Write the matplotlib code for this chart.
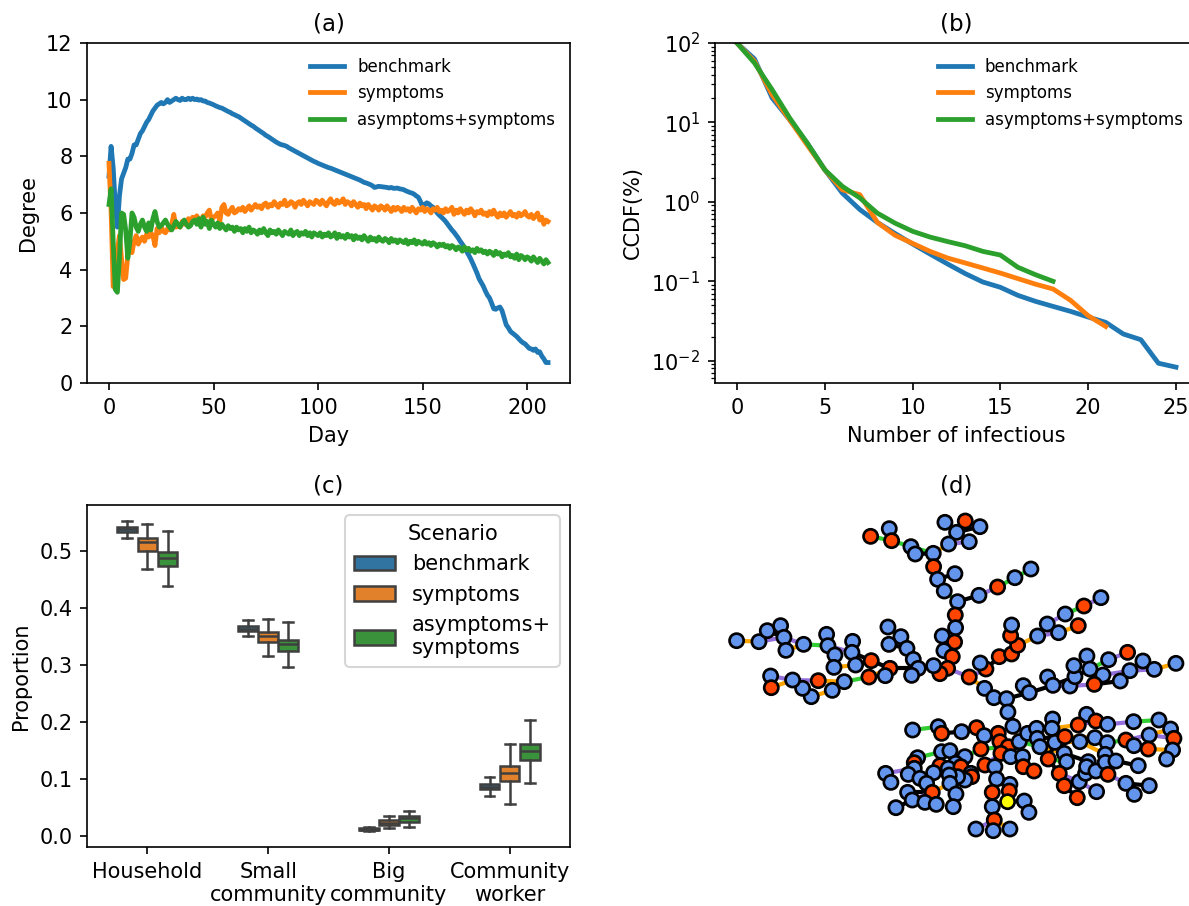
import numpy as np
import matplotlib.pyplot as plt
from matplotlib.patches import Patch

# ---------------- (a) degree over time ----------------
deg_benchmark = [
    7.3, 8.35, 7.6, 6.3, 5.5, 6.6, 7.2, 7.4, 7.6, 7.9,
    7.9, 8.1, 8.4, 8.4, 8.6, 8.8, 8.9, 9.05, 9.2, 9.3,
    9.45, 9.6, 9.7, 9.8, 9.85, 9.9, 9.85, 9.9, 10.0, 9.9,
    9.95, 10.0, 10.05, 10.0, 9.97, 10.05, 10.0, 10.0, 10.05, 10.0,
    10.05, 10.0, 10.02, 9.98, 10.0, 9.95, 9.95, 9.9, 9.88, 9.85,
    9.82, 9.78, 9.75, 9.72, 9.7, 9.66, 9.62, 9.58, 9.55, 9.5,
    9.47, 9.43, 9.4, 9.35, 9.3, 9.25, 9.2, 9.15, 9.1, 9.06,
    9.0, 8.95, 8.9, 8.85, 8.8, 8.74, 8.7, 8.65, 8.6, 8.55,
    8.5, 8.46, 8.42, 8.4, 8.38, 8.35, 8.3, 8.26, 8.22, 8.18,
    8.14, 8.1, 8.06, 8.02, 7.98, 7.94, 7.9, 7.86, 7.82, 7.79,
    7.75, 7.72, 7.69, 7.66, 7.63, 7.6, 7.58, 7.55, 7.52, 7.49,
    7.46, 7.43, 7.4, 7.37, 7.34, 7.31, 7.28, 7.25, 7.22, 7.19,
    7.16, 7.12, 7.08, 7.06, 7.03, 7.0, 6.96, 6.9, 6.92, 6.94,
    6.93, 6.92, 6.91, 6.9, 6.88, 6.9, 6.87, 6.87, 6.88, 6.85,
    6.84, 6.82, 6.78, 6.75, 6.72, 6.7, 6.66, 6.6, 6.55, 6.4,
    6.22, 6.3, 6.36, 6.32, 6.25, 6.2, 6.1, 6.0, 5.92, 5.85,
    5.78, 5.7, 5.6, 5.5, 5.4, 5.32, 5.22, 5.12, 5.0, 4.9,
    4.78, 4.65, 4.52, 4.38, 4.22, 4.05, 3.88, 3.68, 3.55, 3.42,
    3.25, 3.1, 3.0, 2.82, 2.62, 2.6, 2.65, 2.68, 2.55, 2.3,
    2.05, 1.95, 1.82, 1.76, 1.7, 1.64, 1.56, 1.48, 1.42, 1.38,
    1.3, 1.22, 1.2, 1.15, 1.2, 1.08, 1.1, 0.95, 0.85, 0.72,
    0.72]
deg_symptoms = [
    7.75, 6.1, 3.4, 3.9, 4.7, 5.2, 4.4, 3.65, 3.7, 4.5, 4.8,
    4.6, 5.0, 5.2, 4.9, 5.05, 5.15, 5.0, 5.25, 5.15, 5.3,
    5.2, 4.85, 5.45, 5.3, 5.5, 5.35, 5.3, 5.45, 5.4, 5.6,
    5.95, 5.5, 5.55, 5.5, 5.7, 5.6, 5.65, 5.8, 5.65, 5.85,
    5.75, 5.9, 5.75, 5.7, 5.9, 5.85, 6.0, 6.1, 5.75, 5.85,
    5.9, 6.0, 5.7, 6.2, 6.3, 6.0, 5.95, 6.1, 6.2, 6.0,
    6.05, 6.15, 6.1, 6.2, 6.05, 6.15, 6.25, 6.1, 6.2, 6.3,
    6.2, 6.25, 6.15, 6.3, 6.35, 6.2, 6.3, 6.25, 6.4, 6.3,
    6.2, 6.35, 6.3, 6.45, 6.25, 6.3, 6.4, 6.35, 6.2, 6.35,
    6.4, 6.3, 6.45, 6.35, 6.25, 6.4, 6.35, 6.3, 6.45, 6.4,
    6.3, 6.45, 6.35, 6.25, 6.4, 6.5, 6.35, 6.3, 6.45, 6.35,
    6.4, 6.5, 6.3, 6.4, 6.35, 6.25, 6.4, 6.3, 6.2, 6.35,
    6.25, 6.3, 6.15, 6.3, 6.2, 6.1, 6.25, 6.2, 6.1, 6.25,
    6.2, 6.1, 6.25, 6.15, 6.05, 6.2, 6.1, 6.2, 6.15, 6.05,
    6.2, 6.1, 6.15, 6.05, 6.2, 6.1, 6.0, 6.15, 6.1, 6.2,
    6.05, 6.15, 6.1, 6.0, 6.15, 6.1, 6.2, 6.05, 6.1, 6.0,
    6.15, 6.05, 6.1, 6.2, 5.95, 6.1, 6.0, 6.15, 6.05, 5.95,
    6.1, 6.0, 6.15, 6.05, 5.9, 6.05, 6.0, 6.1, 5.95, 6.0,
    5.9, 6.05, 5.95, 6.1, 5.95, 5.85, 6.0, 5.9, 6.0, 5.85,
    5.95, 6.05, 5.9, 5.95, 5.85, 6.0, 5.9, 5.95, 6.05, 5.9,
    5.85, 5.95, 5.8, 5.9, 6.0, 5.75, 5.85, 5.6, 5.75, 5.7]
deg_asym = [
    6.3, 6.85, 5.0, 3.3, 3.2, 4.4, 6.0, 5.95, 5.4, 4.4, 5.0,
    6.0, 5.85, 5.5, 5.35, 5.6, 5.75, 5.5, 5.35, 5.65, 5.4,
    5.8, 6.05, 5.7, 5.5, 5.55, 5.65, 5.75, 5.6, 5.5, 5.4,
    5.55, 5.7, 5.6, 5.5, 5.65, 5.75, 5.6, 5.5, 5.55, 5.7,
    5.75, 5.6, 5.8, 5.5, 5.85, 5.6, 5.7, 5.45, 5.75, 5.6,
    5.5, 5.65, 5.45, 5.6, 5.5, 5.4, 5.55, 5.45, 5.5, 5.35,
    5.5, 5.4, 5.45, 5.3, 5.45, 5.35, 5.5, 5.3, 5.4, 5.35,
    5.25, 5.4, 5.3, 5.45, 5.3, 5.2, 5.4, 5.3, 5.35, 5.25,
    5.4, 5.3, 5.2, 5.35, 5.3, 5.25, 5.4, 5.2, 5.3, 5.35,
    5.2, 5.3, 5.25, 5.35, 5.2, 5.3, 5.15, 5.3, 5.25, 5.2,
    5.3, 5.15, 5.25, 5.2, 5.3, 5.15, 5.2, 5.3, 5.1, 5.25,
    5.15, 5.2, 5.1, 5.25, 5.15, 5.2, 5.05, 5.2, 5.1, 5.15,
    5.05, 5.2, 5.1, 5.0, 5.15, 5.05, 5.1, 5.0, 5.15, 5.05,
    5.0, 5.1, 5.05, 4.95, 5.1, 5.0, 5.05, 4.95, 5.05, 5.0,
    4.95, 5.05, 4.9, 5.0, 4.95, 5.05, 4.9, 5.0, 4.95, 4.9,
    5.0, 4.9, 4.95, 4.85, 4.95, 4.9, 4.8, 4.9, 4.85, 4.9,
    4.8, 4.85, 4.75, 4.85, 4.8, 4.7, 4.8, 4.75, 4.65, 4.8,
    4.7, 4.75, 4.65, 4.7, 4.6, 4.75, 4.65, 4.7, 4.6, 4.65,
    4.55, 4.65, 4.6, 4.5, 4.65, 4.55, 4.6, 4.45, 4.55, 4.5,
    4.6, 4.45, 4.5, 4.4, 4.55, 4.35, 4.5, 4.45, 4.35, 4.45,
    4.4, 4.3, 4.45, 4.35, 4.25, 4.4, 4.3, 4.2, 4.35, 4.25]

# ---------------- (b) CCDF of number of infectious ----------------
ccdf_benchmark = [100, 63, 20.4, 10.8, 5.5, 2.54, 1.29, 0.80, 0.55, 0.40,
                  0.295, 0.22, 0.165, 0.125, 0.098, 0.084, 0.0665, 0.0559,
                  0.0483, 0.0418, 0.0355, 0.0304, 0.0217, 0.0184, 0.0093, 0.0083]
ccdf_symptoms = [100, 58.8, 22.4, 10.8, 5.2, 2.54, 1.42, 1.23, 0.55, 0.38,
                 0.30, 0.238, 0.196, 0.17, 0.147, 0.127, 0.108, 0.092,
                 0.080, 0.0575, 0.0369, 0.027]
ccdf_asym = [100, 56, 25.9, 11.4, 5.5, 2.54, 1.57, 1.12, 0.72, 0.54,
             0.426, 0.36, 0.316, 0.28, 0.238, 0.214, 0.15, 0.121, 0.10]

# ---------------- (c) proportion of infections by setting ----------------
settings = ['Household', 'Small\ncommunity', 'Big\ncommunity', 'Community\nworker']
scenarios = ['benchmark', 'symptoms', 'asymptoms+\nsymptoms']
box_colors = ['#3274a1', '#e1812c', '#3a923a']
whislo = [[0.522, 0.350, 0.0076, 0.070],
          [0.468, 0.315, 0.014, 0.055],
          [0.438, 0.296, 0.016, 0.092]]
q1 = [[0.533, 0.359, 0.010, 0.0816],
      [0.500, 0.340, 0.019, 0.096],
      [0.474, 0.325, 0.0246, 0.133]]
med = [[0.5376, 0.363, 0.011, 0.086],
       [0.515, 0.350, 0.023, 0.111],
       [0.487, 0.336, 0.0305, 0.148]]
q3 = [[0.542, 0.368, 0.013, 0.091],
      [0.522, 0.357, 0.0276, 0.123],
      [0.498, 0.344, 0.0346, 0.161]]
whishi = [[0.553, 0.378, 0.0147, 0.103],
          [0.547, 0.381, 0.0346, 0.161],
          [0.535, 0.375, 0.043, 0.204]]

# ---------------- (d) transmission tree (layout) ----------------
# (x, y, kind)  b = infected, r = infectious, y = index case
nodes = [
    (765, 67, 'b'), (826, 63, 'r'), (870, 80, 'b'), (800, 97, 'b'), (776, 132, 'b'),
    (838, 125, 'b'), (598, 86, 'b'), (542, 109, 'r'), (605, 122, 'r'), (663, 140, 'b'),
    (676, 162, 'b'), (730, 160, 'b'), (731, 200, 'r'), (743, 238, 'b'), (795, 221, 'b'),
    (763, 273, 'b'), (803, 305, 'b'), (867, 286, 'b'), (923, 261, 'r'), (975, 233, 'b'),
    (1023, 207, 'b'), (796, 345, 'r'), (797, 383, 'b'), (757, 408, 'b'), (794, 426, 'r'),
    (762, 452, 'b'), (787, 470, 'r'), (773, 505, 'r'), (750, 521, 'r'), (731, 497, 'b'),
    (838, 531, 'r'), (888, 507, 'r'), (871, 489, 'b'), (928, 470, 'r'), (965, 462, 'r'),
    (983, 436, 'r'), (962, 407, 'r'), (965, 375, 'b'), (1043, 408, 'b'), (1072, 372, 'b'),
    (1106, 398, 'b'), (1165, 377, 'r'), (1126, 342, 'b'), (1182, 318, 'r'), (1233, 293, 'b'),
    (884, 565, 'b'), (912, 593, 'b'), (950, 596, 'b'), (1000, 557, 'b'), (1018, 578, 'b'),
    (1073, 531, 'b'), (1089, 556, 'b'), (1140, 558, 'b'), (1155, 530, 'b'), (1152, 497, 'b'),
    (1191, 468, 'b'), (1200, 507, 'b'), (1256, 479, 'b'), (1313, 457, 'r'), (1239, 525, 'b'),
    (1213, 553, 'r'), (1291, 543, 'b'), (1320, 512, 'b'), (1359, 483, 'b'), (1393, 508, 'b'),
    (1458, 490, 'b'),
    # left branches (66-98)
    (140, 422, 'b'), (207, 425, 'b'), (232, 392, 'b'), (272, 377, 'b'), (282, 412, 'b'),
    (288, 451, 'b'), (341, 433, 'b'), (410, 403, 'b'), (414, 437, 'b'), (435, 465, 'b'),
    (488, 424, 'b'), (486, 457, 'b'), (544, 482, 'r'), (600, 505, 'r'), (497, 495, 'b'),
    (432, 502, 'b'), (594, 381, 'b'), (633, 410, 'b'), (597, 433, 'b'), (651, 445, 'b'),
    (670, 478, 'b'), (685, 505, 'b'), (665, 526, 'b'), (586, 527, 'b'), (537, 531, 'r'),
    (463, 545, 'b'), (427, 571, 'b'), (364, 590, 'b'), (338, 565, 'b'), (385, 542, 'r'),
    (308, 540, 'b'), (242, 528, 'b'), (244, 563, 'r'),
    # stem (99-100)
    (954, 636, 'b'), (969, 679, 'b'),
    # lower left (101-160)
    (668, 690, 'b'), (745, 680, 'b'), (755, 700, 'r'), (815, 695, 'b'), (860, 683, 'r'),
    (883, 707, 'b'), (925, 700, 'r'), (930, 725, 'r'), (955, 740, 'r'), (933, 760, 'r'),
    (988, 725, 'b'), (962, 770, 'b'), (998, 770, 'b'), (1000, 800, 'r'), (1013, 700, 'b'),
    (873, 747, 'r'), (825, 770, 'b'), (755, 755, 'b'), (780, 752, 'b'), (797, 790, 'b'),
    (750, 797, 'r'), (775, 805, 'b'), (813, 800, 'r'), (843, 820, 'b'), (845, 830, 'r'),
    (825, 840, 'b'), (803, 830, 'b'), (778, 825, 'b'), (780, 850, 'b'), (731, 818, 'b'),
    (683, 773, 'b'), (673, 788, 'r'), (673, 805, 'b'), (655, 823, 'b'), (690, 835, 'b'),
    (710, 850, 'b'), (587, 820, 'b'), (603, 847, 'b'), (653, 877, 'b'), (667, 900, 'b'),
    (727, 877, 'r'), (705, 907, 'b'), (739, 913, 'b'), (798, 882, 'b'), (790, 920, 'b'),
    (618, 923, 'b'), (885, 795, 'r'), (915, 800, 'b'), (920, 837, 'b'), (960, 853, 'b'),
    (958, 873, 'r'), (953, 905, 'y'), (1003, 903, 'b'), (1017, 937, 'b'), (907, 877, 'r'),
    (907, 920, 'b'), (913, 960, 'r'), (858, 987, 'b'), (910, 992, 'b'), (960, 987, 'b'),
    # lower right (161-205)
    (1190, 643, 'b'), (1218, 663, 'r'), (1165, 675, 'r'), (1253, 673, 'b'), (1331, 665, 'b'),
    (1407, 660, 'b'), (1088, 657, 'b'), (1086, 685, 'b'), (1040, 685, 'b'), (1042, 715, 'b'),
    (1050, 740, 'b'), (1095, 727, 'b'), (1125, 710, 'r'), (1170, 725, 'b'), (1215, 713, 'b'),
    (1252, 728, 'b'), (1308, 720, 'r'), (1332, 737, 'b'), (1378, 705, 'b'), (1442, 687, 'b'),
    (1452, 715, 'r'), (1375, 747, 'r'), (1448, 750, 'b'), (1430, 777, 'b'), (1032, 813, 'r'),
    (1075, 777, 'r'), (1123, 760, 'b'), (1130, 785, 'b'), (1108, 820, 'r'), (1123, 857, 'r'),
    (1162, 893, 'r'), (1168, 845, 'b'), (1187, 820, 'b'), (1195, 785, 'b'), (1190, 800, 'b'),
    (1218, 813, 'b'), (1220, 875, 'b'), (1246, 763, 'b'), (1246, 787, 'b'), (1254, 823, 'r'),
    (1278, 783, 'b'), (1345, 797, 'b'), (1308, 850, 'b'), (1378, 857, 'b'), (1333, 883, 'b'),
]
# (node a, node b, contact type)
links = [
    (7, 8, 'g'), (6, 8, 'k'), (8, 9, 'g'), (9, 11, 'g'), (10, 11, 'k'), (11, 4, 'o'),
    (4, 5, 'p'), (4, 3, 'o'), (3, 2, 'k'), (3, 1, 'k'), (0, 3, 'g'), (11, 12, 'k'),
    (12, 13, 'k'), (13, 14, 'k'), (13, 15, 'g'), (15, 16, 'g'), (16, 17, 'k'), (17, 18, 'p'),
    (18, 19, 'g'), (19, 20, 'g'), (16, 21, 'k'), (21, 22, 'k'), (22, 24, 'k'), (23, 24, 'g'),
    (24, 26, 'g'), (25, 26, 'k'), (26, 27, 'k'), (27, 28, 'k'), (87, 29, 'g'), (29, 28, 'k'),
    (27, 30, 'p'), (30, 31, 'p'), (31, 32, 'k'), (31, 33, 'k'), (33, 34, 'o'), (34, 35, 'k'),
    (35, 36, 'k'), (36, 37, 'k'), (35, 38, 'o'), (38, 40, 'p'), (40, 41, 'o'), (38, 39, 'k'),
    (39, 42, 'p'), (42, 43, 'g'), (43, 44, 'p'), (30, 45, 'o'), (45, 46, 'g'), (46, 47, 'k'),
    (47, 49, 'k'), (48, 49, 'k'), (47, 99, 'k'), (99, 100, 'k'), (49, 51, 'k'), (51, 50, 'k'),
    (51, 53, 'k'), (53, 54, 'k'), (54, 55, 'o'), (53, 56, 'k'), (56, 57, 'g'), (57, 58, 'p'),
    (51, 52, 'p'), (52, 60, 'p'), (60, 61, 'k'), (56, 59, 'k'), (59, 62, 'p'), (62, 64, 'p'),
    (64, 65, 'o'), (62, 63, 'k'),
    (66, 67, 'o'), (67, 70, 'p'), (68, 70, 'k'), (69, 68, 'k'), (70, 72, 'p'), (71, 72, 'o'),
    (72, 74, 'g'), (73, 74, 'k'), (74, 77, 'p'), (74, 75, 'k'), (76, 77, 'k'), (77, 78, 'k'),
    (78, 79, 'k'), (79, 87, 'k'), (86, 87, 'k'), (85, 86, 'k'), (84, 85, 'k'), (82, 83, 'g'),
    (83, 85, 'k'), (88, 87, 'k'), (89, 79, 'k'), (80, 78, 'p'), (81, 80, 'o'), (90, 79, 'o'),
    (90, 91, 'g'), (91, 92, 'k'), (95, 91, 'o'), (92, 93, 'o'), (94, 93, 'k'), (95, 96, 'p'),
    (96, 97, 'p'), (98, 96, 'o'),
    (100, 111, 'o'), (111, 109, 'k'), (109, 108, 'k'), (107, 108, 'k'), (109, 110, 'o'),
    (110, 147, 'p'), (147, 148, 'k'), (148, 149, 'k'), (149, 150, 'p'), (150, 151, 'k'),
    (151, 152, 'k'), (152, 153, 'g'), (153, 154, 'k'), (149, 155, 'o'), (155, 156, 'k'),
    (156, 157, 'k'), (157, 158, 'p'), (157, 159, 'k'), (157, 160, 'o'), (109, 116, 'g'),
    (116, 117, 'g'), (108, 106, 'p'), (106, 105, 'k'), (105, 104, 'g'), (104, 103, 'k'),
    (103, 102, 'p'), (102, 101, 'g'), (117, 120, 'p'), (120, 119, 'k'), (118, 119, 'k'),
    (118, 131, 'g'), (131, 132, 'k'), (132, 133, 'k'), (133, 137, 'p'), (137, 138, 'k'),
    (133, 134, 'k'), (134, 135, 'k'), (135, 136, 'k'), (121, 120, 'k'), (121, 130, 'k'),
    (129, 141, 'o'), (141, 142, 'k'), (141, 143, 'k'), (139, 141, 'k'), (140, 141, 'p'),
    (146, 140, 'k'), (123, 124, 'k'), (124, 125, 'k'), (122, 123, 'o'), (126, 129, 'o'),
    (127, 144, 'k'), (145, 144, 'k'), (128, 127, 'k'), (122, 128, 'k'), (120, 122, 'k'),
    (125, 126, 'k'), (117, 123, 'g'),
    (111, 112, 'k'), (111, 113, 'k'), (113, 114, 'k'), (114, 185, 'k'), (111, 115, 'k'),
    (115, 169, 'k'), (169, 168, 'g'), (168, 167, 'k'), (168, 163, 'o'), (163, 162, 'p'),
    (162, 161, 'k'), (162, 164, 'k'), (164, 165, 'p'), (165, 166, 'g'), (169, 170, 'k'),
    (170, 173, 'k'), (173, 175, 'o'), (175, 176, 'k'), (176, 177, 'g'), (177, 179, 'p'),
    (179, 180, 'o'), (179, 181, 'p'), (180, 181, 'k'), (178, 177, 'k'), (178, 182, 'o'),
    (182, 183, 'o'), (183, 184, 'p'), (111, 171, 'g'), (171, 187, 'o'), (172, 171, 'k'),
    (172, 174, 'o'), (187, 194, 'k'), (186, 188, 'g'), (186, 189, 'k'), (189, 192, 'p'),
    (189, 190, 'k'), (190, 191, 'k'), (192, 197, 'p'), (194, 195, 'k'), (195, 193, 'k'),
    (196, 200, 'p'), (198, 199, 'k'), (199, 200, 'o'), (200, 203, 'p'), (203, 204, 'k'),
    (203, 205, 'k'), (201, 202, 'k'), (198, 201, 'o'), (172, 186, 'k'), (174, 198, 'o'),
]
node_colors = {'b': '#6495ed', 'r': '#ff4500', 'y': '#ffff00'}
link_colors = {'k': 'black', 'o': '#ffa500', 'g': '#32cd32', 'p': '#9370db'}

plt.rcParams['font.size'] = 10
fig = plt.figure(figsize=(1189 / 150, 906 / 150), dpi=150)

C = ['#1f77b4', '#ff7f0e', '#2ca02c']

# (a)
ax1 = fig.add_axes([0.0732, 0.5773, 0.4062, 0.3753])
ax1.plot(np.arange(len(deg_benchmark)), deg_benchmark, color=C[0], lw=2.3, label='benchmark')
ax1.plot(np.arange(len(deg_symptoms)), deg_symptoms, color=C[1], lw=2.3, label='symptoms')
ax1.plot(np.arange(len(deg_asym)), deg_asym, color=C[2], lw=2.3, label='asymptoms+symptoms')
ax1.set_ylim(0, 12)
ax1.set_yticks(np.arange(0, 13, 2))
ax1.set_xlabel('Day')
ax1.set_ylabel('Degree')
ax1.set_title('(a)', fontsize=11)
ax1.legend(frameon=False, fontsize=8, loc='upper right')

# (b)
ax2 = fig.add_axes([0.6013, 0.5773, 0.4062, 0.3753])
ax2.plot(np.arange(len(ccdf_benchmark)), ccdf_benchmark, color=C[0], lw=2.3, label='benchmark')
ax2.plot(np.arange(len(ccdf_symptoms)), ccdf_symptoms, color=C[1], lw=2.3, label='symptoms')
ax2.plot(np.arange(len(ccdf_asym)), ccdf_asym, color=C[2], lw=2.3, label='asymptoms+symptoms')
ax2.set_yscale('log')
ax2.set_ylim(10 ** -2.28, 100)
ax2.set_xticks(np.arange(0, 26, 5))
ax2.set_xlabel('Number of infectious')
ax2.set_ylabel('CCDF(%)')
ax2.set_title('(b)', fontsize=11)
ax2.legend(frameon=False, fontsize=8, loc='upper right')

# (c)
ax3 = fig.add_axes([0.0732, 0.0651, 0.4062, 0.3775])
gray = '#3f3f3f'
w = 0.5 / 3
for s in range(3):
    stats = []
    for i in range(len(settings)):
        stats.append({'whislo': whislo[s][i], 'q1': q1[s][i], 'med': med[s][i],
                      'q3': q3[s][i], 'whishi': whishi[s][i], 'fliers': []})
    pos = np.arange(len(settings)) + (s - 1) * w
    ax3.bxp(stats, positions=pos, widths=w * 0.98, patch_artist=True, showfliers=False,
            boxprops=dict(facecolor=box_colors[s], edgecolor=gray, linewidth=1.2),
            medianprops=dict(color=gray, linewidth=1.2),
            whiskerprops=dict(color=gray, linewidth=1.2),
            capprops=dict(color=gray, linewidth=1.2), manage_ticks=False)
ax3.set_xticks(np.arange(len(settings)))
ax3.set_xticklabels(settings)
ax3.set_xlim(-0.5, len(settings) - 0.5)
ax3.set_ylabel('Proportion')
ax3.set_title('(c)', fontsize=11)
handles = [Patch(facecolor=box_colors[s], edgecolor=gray, linewidth=1.2, label=scenarios[s])
           for s in range(3)]
ax3.legend(handles=handles, title='Scenario', loc='upper right')

# (d)
ax4 = fig.add_axes([0.6013, 0.0651, 0.4062, 0.3775])
for a, b, t in links:
    ax4.plot([nodes[a][0], nodes[b][0]], [nodes[a][1], nodes[b][1]],
             color=link_colors[t], lw=2.0, zorder=1, solid_capstyle='round')
nx = [n[0] for n in nodes]
ny = [n[1] for n in nodes]
nc = [node_colors[n[2]] for n in nodes]
ax4.scatter(nx, ny, s=46, c=nc, edgecolors='black', linewidths=1.3, zorder=2)
ax4.set_xlim(75, 1524)
ax4.set_ylim(1041, 15)
ax4.axis('off')
ax4.set_title('(d)', fontsize=11)

fig.savefig('out.png', dpi=150)
